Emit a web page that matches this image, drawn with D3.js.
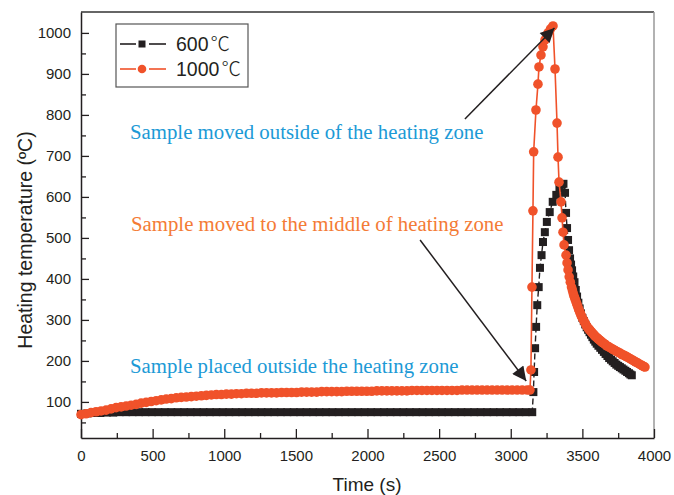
<!DOCTYPE html>
<html>
<head>
<meta charset="utf-8">
<script src="https://cdn.jsdelivr.net/npm/d3@7"></script>
<style>
  body { margin: 0; background: #fff; }
  svg { display: block; }
  text { font-family: "Liberation Sans", Arial, "Noto Sans CJK SC", sans-serif; fill: #231f20; }
</style>
</head>
<body>
<svg width="674" height="495"></svg>
<script>
// 600 C run: time (s), temperature (C)
var series600 = [
  [0,71],[45,72],[90,73],[135,73],[180,74],[225,74],[270,75],[315,75],[360,75],[405,75],
  [450,75],[495,75],[540,75],[585,75],[630,75],[675,75],[720,75],[765,75],[810,75],[855,75],
  [900,75],[945,75],[990,75],[1035,75],[1080,75],[1125,75],[1170,75],[1215,75],[1260,75],[1305,75],
  [1350,75],[1395,75],[1440,75],[1485,75],[1530,75],[1575,75],[1620,75],[1665,75],[1710,75],[1755,75],
  [1800,75],[1845,75],[1890,75],[1935,75],[1980,75],[2025,75],[2070,75],[2115,75],[2160,75],[2205,75],
  [2250,75],[2295,75],[2340,75],[2385,75],[2430,75],[2475,75],[2520,75],[2565,75],[2610,75],[2655,75],
  [2700,75],[2745,75],[2790,75],[2835,75],[2880,75],[2925,75],[2970,75],[3015,75],[3060,75],[3105,75],
  [3150,75],
  [3158,124],[3163,173],[3170,231],[3177,283],[3185,336],[3195,380],[3204,427],[3215,458],[3225,490],
  [3238,514],[3252,539],[3272,563],[3293,588],[3318,605],[3340,622],[3358,630],[3368,632],
  [3379,610],[3386,561],[3393,524],[3400,495],[3407,470],[3414,450],[3421,435],[3428,421],[3436,406],
  [3445,392],[3454,373],[3463,357],[3472,342],[3481,328],[3490,316],[3500,305],[3510,297],[3520,289],
  [3530,282],[3540,276],[3550,270],[3560,264],[3570,258],[3580,252],[3590,247],[3600,242],[3612,237],
  [3625,232],[3637,227],[3650,222],[3662,217],[3675,212],[3687,207],[3700,203],[3712,199],[3725,195],
  [3737,191],[3750,188],[3762,185],[3775,182],[3787,179],[3800,176],[3812,173],[3825,170],[3835,167],
  [3845,165]
];

// 1000 C run: time (s), temperature (C)
var series1000 = [
  [0,69],[35,71],[70,74],[105,76],[140,78],[175,80],[210,83],[245,86],[280,88],[315,90],
  [350,92],[385,94],[420,97],[455,99],[490,101],[525,103],[560,105],[595,107],[630,108],[665,110],
  [700,111],[735,112],[770,113],[805,114],[840,115],[875,116],[910,117],[945,118],[980,118],[1015,119],
  [1050,119],[1085,120],[1120,120],[1155,121],[1190,121],[1225,121],[1260,122],[1295,122],[1330,122],[1365,122],
  [1400,123],[1435,123],[1470,123],[1505,123],[1540,124],[1575,124],[1610,124],[1645,124],[1680,125],[1715,125],
  [1750,125],[1785,125],[1820,125],[1855,126],[1890,126],[1925,126],[1960,126],[1995,126],[2030,126],[2065,127],
  [2100,127],[2135,127],[2170,127],[2205,127],[2240,127],[2275,127],[2310,128],[2345,128],[2380,128],[2415,128],
  [2450,128],[2485,128],[2520,128],[2555,128],[2590,128],[2625,128],[2660,129],[2695,129],[2730,129],[2765,129],
  [2800,129],[2835,129],[2870,129],[2905,129],[2940,129],[2975,129],[3010,129],[3045,129],[3080,129],[3115,129],
  [3134,129],
  [3141,178],[3148,380],[3155,566],[3160,710],[3176,812],[3190,875],[3197,917],[3211,946],[3225,966],
  [3239,983],[3260,1000],[3278,1010],[3295,1017],
  [3309,912],[3323,780],[3330,697],[3337,636],[3351,588],[3358,549],[3365,514],[3372,483],[3386,458],
  [3393,439],[3400,422],[3408,405],[3416,392],[3424,380],[3430,373],[3435,366],[3440,360],[3445,355],
  [3450,350],[3455,345],[3460,340],[3465,335],[3470,330],[3475,325],[3480,321],[3484,317],[3490,312],
  [3495,308],[3501,304],[3507,300],[3513,296],[3519,292],[3525,288],[3530,285],[3536,282],[3542,279],
  [3548,277],[3553,275],[3559,272],[3565,270],[3571,267],[3578,265],[3584,262],[3590,260],[3597,258],
  [3603,256],[3610,254],[3616,252],[3623,250],[3630,248],[3637,246],[3644,244],[3652,242],[3660,240],
  [3670,237],[3680,235],[3690,233],[3700,231],[3710,229],[3720,227],[3730,225],[3740,223],[3751,221],
  [3763,219],[3771,217],[3780,215],[3790,214],[3800,212],[3810,210],[3820,208],[3830,206],[3840,204],
  [3850,202],[3860,200],[3870,198],[3880,196],[3890,194],[3900,192],[3910,190],[3920,188],[3929,186],
  [3937,185]
];

var xMajor = [0, 500, 1000, 1500, 2000, 2500, 3000, 3500, 4000];
var xMinor = [250, 750, 1250, 1750, 2250, 2750, 3250, 3750];
var yMajor = [100, 200, 300, 400, 500, 600, 700, 800, 900, 1000];
var yMinor = [50, 150, 250, 350, 450, 550, 650, 750, 850, 950];

var legendNames = ["600", "1000"];

// annotation text and arrows, in data units
var notes = [
  {text: "Sample moved outside of the heating zone", t: 342, T: 741, color: "#1c9ad6"},
  {text: "Sample moved to the middle of heating zone", t: 349, T: 517, color: "#f47b35"},
  {text: "Sample placed outside the heating zone", t: 342, T: 170, color: "#1c9ad6"}
];
var arrows = [
  {from: [2680, 790], to: [3305, 1012]},
  {from: [2367, 495], to: [3108, 151]}
];

var ink = "#231f20", red = "#f0522a";

var svg = d3.select("svg");

var x = d3.scaleLinear().domain([0, 4000]).range([81, 654]);
var y = d3.scaleLinear().domain([12, 1051]).range([438, 12]);

// frame: top and right
svg.append("line").attr("x1", 81).attr("x2", 654).attr("y1", 12).attr("y2", 12)
  .attr("stroke", "#333").attr("stroke-width", 1.5);
svg.append("line").attr("x1", 654).attr("x2", 654).attr("y1", 12).attr("y2", 438)
  .attr("stroke", "#999").attr("stroke-width", 1.5);

// x axis
var gx = svg.append("g").attr("transform", "translate(0,438)");
gx.call(d3.axisBottom(x).tickValues(xMajor).tickSize(-9).tickSizeOuter(0).tickPadding(12).tickFormat(d3.format("d")));
gx.append("g").call(d3.axisBottom(x).tickValues(xMinor).tickSize(-5).tickSizeOuter(0).tickFormat(""))
  .select(".domain").remove();

// y axis
var gy = svg.append("g").attr("transform", "translate(81,0)");
gy.call(d3.axisLeft(y).tickValues(yMajor).tickSize(-8).tickSizeOuter(0).tickPadding(10).tickFormat(d3.format("d")));
gy.append("g").call(d3.axisLeft(y).tickValues(yMinor).tickSize(-5).tickSizeOuter(0).tickFormat(""))
  .select(".domain").remove();

svg.selectAll(".domain").attr("stroke", ink).attr("stroke-width", 1.5);
svg.selectAll(".tick line").attr("stroke", ink).attr("stroke-width", 1.3);
svg.selectAll(".tick text").attr("font-size", 15).attr("font-family", null).attr("fill", ink);

// axis titles
svg.append("text").attr("x", 367).attr("y", 491).attr("text-anchor", "middle")
  .attr("font-size", 19).text("Time (s)");
svg.append("text").attr("transform", "translate(32,240) rotate(-90)").attr("text-anchor", "middle")
  .attr("font-size", 19.5).text("Heating temperature (\u00baC)");

var line = d3.line().x(function(d) { return x(d[0]); }).y(function(d) { return y(d[1]); });

// 600 C series
svg.append("path").datum(series600).attr("d", line)
  .attr("fill", "none").attr("stroke", ink).attr("stroke-width", 1.4).attr("stroke-dasharray", "6,3");
svg.append("g").selectAll("rect").data(series600).enter().append("rect")
  .attr("x", function(d) { return x(d[0]) - 4; })
  .attr("y", function(d) { return y(d[1]) - 4; })
  .attr("width", 8).attr("height", 8)
  .attr("fill", ink);

// 1000 C series
svg.append("path").datum(series1000).attr("d", line)
  .attr("fill", "none").attr("stroke", red).attr("stroke-width", 1.6);
svg.append("g").selectAll("circle").data(series1000).enter().append("circle")
  .attr("cx", function(d) { return x(d[0]); })
  .attr("cy", function(d) { return y(d[1]); })
  .attr("r", 4.8)
  .attr("fill", red);

// annotations
svg.append("defs").append("marker")
  .attr("id", "head").attr("viewBox", "0 0 10 10").attr("refX", 10).attr("refY", 5)
  .attr("markerWidth", 16).attr("markerHeight", 14).attr("markerUnits", "userSpaceOnUse")
  .attr("orient", "auto")
  .append("path").attr("d", "M0,0 L10,5 L0,10 z").attr("fill", ink);

svg.selectAll(".arrow").data(arrows).enter().append("line")
  .attr("class", "arrow")
  .attr("x1", function(d) { return x(d.from[0]); })
  .attr("y1", function(d) { return y(d.from[1]); })
  .attr("x2", function(d) { return x(d.to[0]); })
  .attr("y2", function(d) { return y(d.to[1]); })
  .attr("stroke", ink).attr("stroke-width", 1.5)
  .attr("marker-end", "url(#head)");

svg.selectAll(".note").data(notes).enter().append("text")
  .attr("class", "note")
  .attr("x", function(d) { return x(d.t); })
  .attr("y", function(d) { return y(d.T); })
  .style("font-family", "'Liberation Serif', 'Times New Roman', serif")
  .style("fill", function(d) { return d.color; })
  .attr("font-size", 20.8)
  .text(function(d) { return d.text; });

// legend
var lg = svg.append("g");
lg.append("rect").attr("x", 116).attr("y", 24).attr("width", 132).attr("height", 63)
  .attr("fill", "#fff").attr("stroke", "#555").attr("stroke-width", 1.2);
var rows = lg.selectAll(".row").data(legendNames).enter().append("g")
  .attr("class", "row")
  .attr("transform", function(d, i) { return "translate(0," + (44 + i * 25) + ")"; });
rows.append("line").attr("x1", 120).attr("x2", 136)
  .attr("stroke", function(d, i) { return i ? red : ink; }).attr("stroke-width", 1.6);
rows.append("line").attr("x1", 149).attr("x2", 166)
  .attr("stroke", function(d, i) { return i ? red : ink; }).attr("stroke-width", 1.6);
rows.filter(function(d, i) { return i === 0; }).append("rect")
  .attr("x", 138.5).attr("y", -3.5).attr("width", 7).attr("height", 7).attr("fill", ink);
rows.filter(function(d, i) { return i === 1; }).append("circle")
  .attr("cx", 142).attr("cy", 0).attr("r", 4.3).attr("fill", red);
var lt = rows.append("text").attr("x", 176).attr("y", 7).attr("font-size", 19.5);
lt.append("tspan").text(function(d) { return d; });
lt.append("tspan").attr("dx", 2).style("font-family", "'Noto Sans CJK SC', sans-serif")
  .style("font-weight", 300).text("\u2103");
</script>
</body>
</html>
